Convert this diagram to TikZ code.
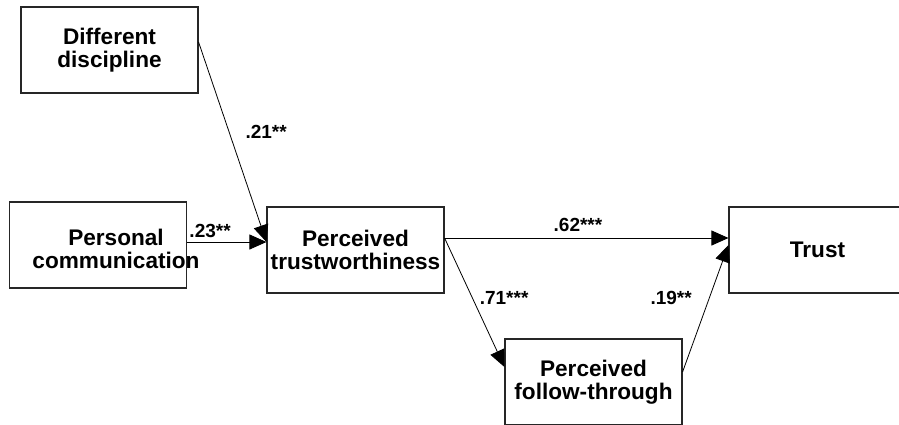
\documentclass[tikz,border=0pt]{standalone}
\usepackage{fontspec}
\setmainfont{Liberation Sans}
\usepackage{tikz}
\usetikzlibrary{arrows.meta, positioning}
\tikzstyle{construct} = [rectangle, minimum width=177pt, minimum height=86pt, inner sep=0pt, text centered, align=center, draw=black!85, line width=1.1pt, fill=white, font=\fontsize{22.6}{22.5}\selectfont\bfseries]
\tikzstyle{coef} = [inner sep=0pt, font=\fontsize{19}{20}\selectfont\bfseries]
\tikzstyle{arrow} = [line width=0.8pt, -{Triangle[length=17pt, width=15pt]}]

\begin{document}
\begin{tikzpicture}[x=1pt, y=-1pt, node distance=257.5pt]
        \useasboundingbox (0,0) rectangle (899,424);
        % Nodes
        \node (percTrust) [construct] at (355.5,250) {Perceived\\trustworthiness};
        \node (persComm) [construct, left of=percTrust, yshift=5pt] {};
        \node (persCommText) [font=\fontsize{22.6}{22.5}\selectfont\bfseries, align=center, inner sep=0pt] at ([xshift=18pt, yshift=-4pt]persComm.center) {Personal\\communication};
        \node (diffDisc) [construct, above of=persComm, xshift=11.5pt, yshift=-62.5pt] {Different\\discipline};
        \node (trust) [construct, right of=percTrust, xshift=204.5pt] {Trust};
        \node (percFollow) [construct, below of=percTrust, xshift=238pt, yshift=125.5pt] {Perceived\\follow-through};

        % Arrows
        \draw [arrow] ([yshift=8pt]diffDisc.east) -- ([yshift=8pt]percTrust.west) node[coef, pos=0.45, right=16pt] {.21**};
        \draw [arrow] ([yshift=3pt]persComm.east) -- ([yshift=8pt]percTrust.west) node[coef, pos=0.29, above=4pt] {.23**};
        \draw [arrow] ([yshift=12pt]percTrust.east) -- ([yshift=12pt]trust.west) node[coef, pos=0.47, above=6pt] {.62***};
        \draw [arrow] ([yshift=12pt]percTrust.east) -- ([yshift=15pt]percFollow.west) node[coef, pos=0.465, right=7pt] {.71***};
        \draw [arrow] ([yshift=10pt]percFollow.east) -- ([yshift=5pt]trust.west) node[coef, pos=0.58, left=17pt] {.19**};
\end{tikzpicture}
\end{document}
